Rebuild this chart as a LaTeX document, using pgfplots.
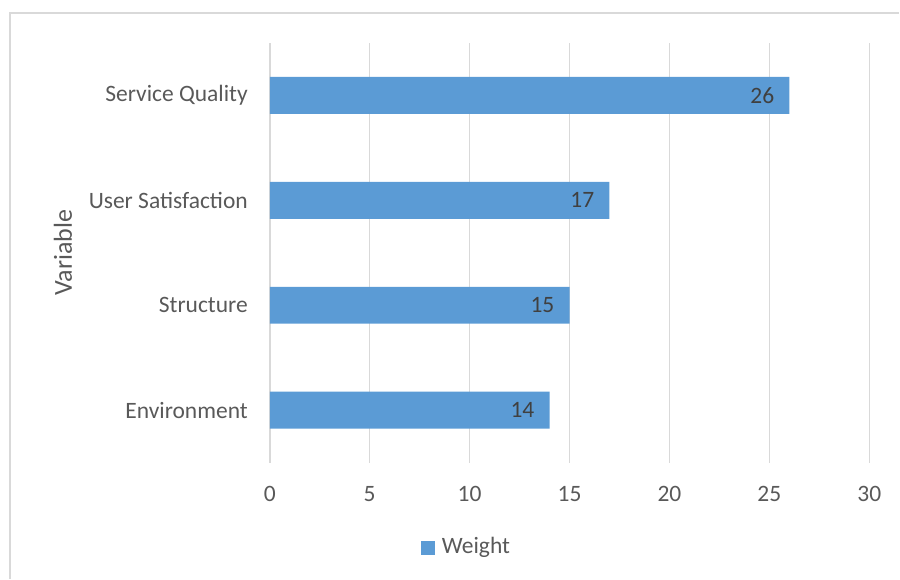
\documentclass[border=0pt]{standalone}
\usepackage{pgfplots}
\pgfplotsset{compat=1.18}
\usepackage{fontspec}
\setmainfont{Carlito}
\definecolor{barblue}{HTML}{5B9BD5}
\definecolor{txtgray}{HTML}{595959}
\definecolor{valgray}{HTML}{404040}
\definecolor{gridgray}{HTML}{D9D9D9}
\begin{document}
\fontsize{23.5bp}{28bp}\selectfont
\begin{tikzpicture}
\begin{axis}[
  scale only axis,
  width=600bp, height=420bp,
  xbar, bar width=37bp,
  xmin=0, xmax=30,
  ymin=-0.5, ymax=3.5,
  xtick={0,5,...,30},
  ytick={0,1,2,3},
  yticklabels={Environment,Structure,User Satisfaction,Service Quality},
  axis line style={draw=none},
  major tick length=0pt,
  xmajorgrids, major grid style={gridgray, line width=1.5bp},
  /pgf/number format/assume math mode=true,
  tick label style={font=\fontsize{23.5bp}{28bp}\selectfont, text=txtgray},
  xticklabel style={anchor=north, yshift=-16bp},
  yticklabel style={anchor=east, xshift=-14bp},
  ylabel={Variable},
  every axis y label/.style={at={(rel axis cs:-0.345,0.5)}, rotate=90, anchor=center,
    font=\fontsize{26bp}{30bp}\selectfont, text=txtgray},
  nodes near coords,
  nodes near coords style={font=\fontsize{23.5bp}{28bp}\selectfont, text=valgray, anchor=east, inner sep=0pt, xshift=-15bp},
  legend style={at={(rel axis cs:0.328,-0.2024)}, anchor=center, draw=none, fill=none,
    font=\fontsize{23.5bp}{28bp}\selectfont, text=txtgray, inner sep=0pt,
    /tikz/every odd column/.append style={column sep=5bp}},
  legend image code/.code={\fill[barblue] (0bp,-7bp) rectangle (14bp,7bp);},
  clip=false,
]
\addplot[fill=barblue, draw=none] coordinates {(14,0) (15,1) (17,2) (26,3)};
\addlegendentry{Weight}
\draw[gridgray, line width=1.5bp] (rel axis cs:-0.4333,-0.2762) -- (rel axis cs:-0.4333,1.0714) -- (rel axis cs:1.05,1.0714);
\path[use as bounding box] (rel axis cs:-0.45,-0.2762) rectangle (rel axis cs:1.05,1.1024);
\end{axis}
\end{tikzpicture}
\end{document}
